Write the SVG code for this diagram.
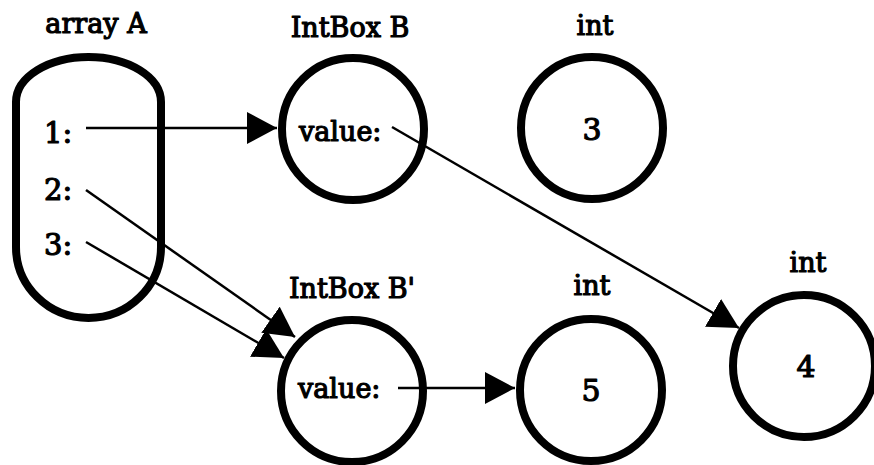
<svg xmlns="http://www.w3.org/2000/svg" width="874" height="465" viewBox="0 0 874 465">
<style>
text{font-family:'DejaVu Serif','Liberation Serif',serif;font-weight:normal;fill:#000;stroke:#000;stroke-width:1.2;stroke-linejoin:round}
.lbl{font-size:27px;text-anchor:middle}
.fld{font-size:27px}
.idx{font-size:29px}
.num{font-size:30px;text-anchor:middle}
.node{fill:none;stroke:#000;stroke-width:8}
.edge{fill:none;stroke:#000;stroke-width:2.5}
</style>
<defs>
<marker id="ah" markerUnits="userSpaceOnUse" markerWidth="32" markerHeight="34" refX="30" refY="16" orient="auto">
<path d="M0,0 L30,16 L0,32 Z" fill="#000"/>
</marker>
</defs>
<rect width="874" height="465" fill="#fff"/>
<g id="arrayA">
<path class="node" d="M16,247 L16,102 A72.5,45 0 0 1 161,102 L161,247 A72.5,71 0 0 1 16,247 Z"/>
<text class="lbl" x="96" y="33">array A</text>
<text class="idx" x="44" y="143">1:</text>
<text class="idx" x="44" y="200">2:</text>
<text class="idx" x="44" y="255">3:</text>
</g>
<g id="intboxB">
<circle class="node" cx="353" cy="129" r="71"/>
<text class="lbl" x="350" y="37">IntBox B</text>
<text class="fld" x="299" y="141">value:</text>
</g>
<g id="int3">
<circle class="node" cx="592" cy="128" r="71"/>
<text class="lbl" x="595" y="35">int</text>
<text class="num" x="592" y="140">3</text>
</g>
<g id="intboxBp">
<circle class="node" cx="352" cy="391" r="71"/>
<text class="lbl" x="352" y="298">IntBox B'</text>
<text class="fld" x="298" y="398">value:</text>
</g>
<g id="int5">
<circle class="node" cx="591" cy="390" r="71"/>
<text class="lbl" x="592" y="295">int</text>
<text class="num" x="591" y="401">5</text>
</g>
<g id="int4">
<circle class="node" cx="804" cy="366" r="71"/>
<text class="lbl" x="808" y="272">int</text>
<text class="num" x="806" y="377">4</text>
</g>
<g id="connectors">
<line class="edge" x1="86" y1="128" x2="277" y2="128" marker-end="url(#ah)"/>
<line class="edge" x1="86" y1="190" x2="295" y2="337" marker-end="url(#ah)"/>
<line class="edge" x1="86" y1="242" x2="284" y2="358" marker-end="url(#ah)"/>
<line class="edge" x1="392" y1="127" x2="739" y2="328" marker-end="url(#ah)"/>
<line class="edge" x1="398" y1="388" x2="515" y2="388" marker-end="url(#ah)"/>
</g>
</svg>
